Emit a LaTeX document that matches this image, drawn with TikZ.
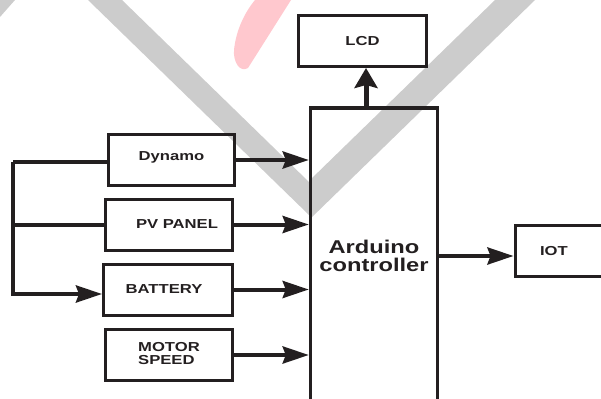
\documentclass[tikz,border=0pt]{standalone}
\usepackage{fontspec}
\newfontfamily\lblfont{Liberation Sans}[FakeStretch=1.28]
\usetikzlibrary{arrows.meta, positioning}
\definecolor{ink}{RGB}{35,31,32}
\definecolor{wmgray}{RGB}{204,204,204}
\definecolor{wmpink}{RGB}{255,200,206}

\begin{document}
\begin{tikzpicture}[
    x=1pt, y=-1pt,
    every node/.style = {font=\lblfont\bfseries\fontsize{13}{10.7}\selectfont, text=ink},
    box/.style  = {rectangle, draw=ink, line width=3pt, inner sep=0pt,
                   minimum width=127pt, minimum height=51pt, align=center},
    ctrlbox/.style = {box, line width=3.5pt, minimum height=296pt,
                   font=\lblfont\bfseries\fontsize{18.5}{18.4}\selectfont},
    harr/.style = {-{Stealth[length=26pt, width=17pt, inset=3pt]}, line width=4pt, draw=ink},
    varr/.style = {-{Stealth[length=20pt, width=23pt, inset=3pt]}, line width=5pt, draw=ink},
    bus/.style  = {line width=4pt, draw=ink},
    wm/.style   = {fill=wmgray}
  ]
  \useasboundingbox (0,0) rectangle (601,398);

  % watermark
  \fill[wm] (0,0) -- (15,0) -- (0,17) -- cycle;
  \fill[wm] (88,0) -- (122,0) -- (309,182) -- (309,215) -- cycle;
  \fill[wm] (495,0) -- (535,0) -- (309,220) -- (309,181) -- cycle;
  \fill[wmpink] (255,0) -- (291,0) -- (248,68)
    .. controls (240,73) and (233,62) .. (234,50)
    .. controls (236,30) and (245,12) .. (255,0);

  % nodes
  \node[box, minimum width=128pt] (lcd) at (362.5,41) {LCD};
  \node[ctrlbox] (ctrl) at (374,256) {Arduino\\controller};

  \node[box, minimum width=126pt] (dyn) at (171.5,160) {\raisebox{7pt}{Dynamo}};
  \node[box] (pv)  at (169,224.5) {\hspace*{16pt}PV PANEL};
  \node[box, minimum width=129pt] (bat) at (168,289.5) {BATTERY\hspace*{8pt}};
  \node[box] (mot) at (169,355) {\raisebox{8pt}{\begin{tabular}{@{}l@{}}MOTOR\\SPEED\end{tabular}}};

  \node[box, anchor=west, inner xsep=25pt, text width=100pt, align=left] (iot) at (513.5,251) {IOT};

  \coordinate (bus) at (13,162);

  % edges
  \draw[harr] (dyn) -- (dyn -| ctrl.west);
  \draw[harr] (pv)  -- (pv -| ctrl.west);
  \draw[harr] (bat) -- (bat -| ctrl.west);
  \draw[harr] (mot) -- (mot -| ctrl.west);

  \draw[bus]  ([yshift=-2pt]dyn.west) -- (bus);
  \draw[bus]  (pv.west) -- (pv.west -| bus);
  \draw[harr] (bus) |- ([yshift=-4.5pt]bat.west);

  \draw[varr] ([xshift=3.5pt]lcd.south |- ctrl.north) -- ([xshift=3.5pt]lcd.south);
  \draw[harr] (ctrl.east) -- (ctrl.east -| iot.west);

\end{tikzpicture}
\end{document}
